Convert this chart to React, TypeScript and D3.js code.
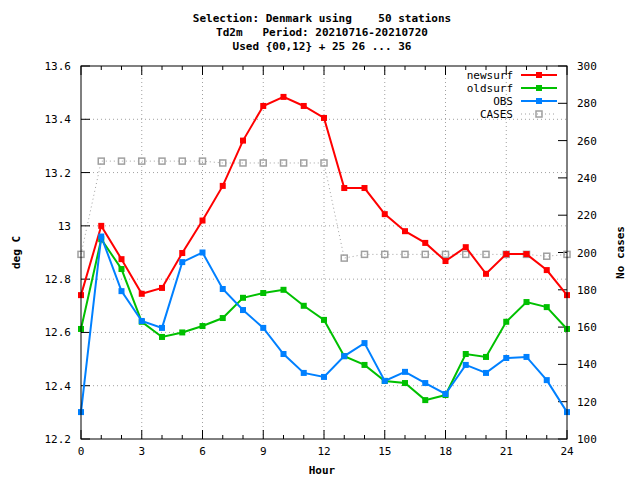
import { useEffect, useRef } from 'react'
import * as d3 from 'd3'

const hours = d3.range(0, 25)
const newsurf = [12.74, 13.0, 12.875, 12.745, 12.767, 12.898, 13.02, 13.15, 13.32, 13.45, 13.484, 13.45, 13.405, 13.142, 13.142, 13.044, 12.98, 12.936, 12.868, 12.92, 12.82, 12.894, 12.894, 12.834, 12.74]
const oldsurf = [12.613, 12.95, 12.838, 12.64, 12.583, 12.6, 12.624, 12.654, 12.73, 12.748, 12.76, 12.7, 12.647, 12.511, 12.478, 12.418, 12.41, 12.346, 12.365, 12.519, 12.508, 12.64, 12.714, 12.695, 12.613]
const obs = [12.301, 12.96, 12.755, 12.643, 12.617, 12.864, 12.9, 12.763, 12.684, 12.617, 12.519, 12.448, 12.433, 12.511, 12.56, 12.418, 12.452, 12.41, 12.369, 12.478, 12.448, 12.504, 12.508, 12.421, 12.301]
const cases = [199, 249, 249, 249, 249, 249, 249, 248, 248, 248, 248, 248, 248, 197, 199, 199, 199, 199, 199, 199, 199, 199, 199, 198, 199]
const xTicks = [0, 3, 6, 9, 12, 15, 18, 21, 24]
const yTicks = [12.2, 12.4, 12.6, 12.8, 13, 13.2, 13.4, 13.6]
const y2Ticks = [100, 120, 140, 160, 180, 200, 220, 240, 260, 280, 300]
const titleLines = ['Selection: Denmark using    50 stations', 'Td2m   Period: 20210716-20210720', 'Used {00,12} + 25 26 ... 36']

export default function App() {
  const ref = useRef<SVGSVGElement>(null)

  useEffect(() => {
    const svg = d3.select(ref.current)
    svg.selectAll('*').remove()
    const font = '"DejaVu Sans Mono", monospace'
    const L = 81, R = 567, T = 66, B = 439

    const x = d3.scaleLinear().domain([0, 24]).range([L, R])
    const y = d3.scaleLinear().domain([12.2, 13.6]).range([B, T])
    const y2 = d3.scaleLinear().domain([100, 300]).range([B, T])

    svg.append('rect').attr('width', 640).attr('height', 480).attr('fill', '#fff')

    // grid
    const g = svg.append('g').attr('stroke', '#a0a0a0').attr('stroke-width', 1).attr('stroke-dasharray', '1,3')
    xTicks.slice(1, -1).forEach(t => g.append('line').attr('x1', x(t)).attr('x2', x(t)).attr('y1', T).attr('y2', B))
    yTicks.slice(1, -1).forEach(t => g.append('line').attr('x1', L).attr('x2', R).attr('y1', y(t)).attr('y2', y(t)))

    const ax = svg.append('g').attr('stroke', '#000').attr('stroke-width', 1)
    hours.forEach(h => {
      const len = xTicks.includes(h) ? 9 : 4
      ax.append('line').attr('x1', x(h)).attr('x2', x(h)).attr('y1', B).attr('y2', B - len)
      ax.append('line').attr('x1', x(h)).attr('x2', x(h)).attr('y1', T).attr('y2', T + len)
    })
    yTicks.forEach(t => ax.append('line').attr('x1', L).attr('x2', L + 9).attr('y1', y(t)).attr('y2', y(t)))
    y2Ticks.forEach(t => ax.append('line').attr('x1', R).attr('x2', R - 9).attr('y1', y2(t)).attr('y2', y2(t)))

    const txt = (s: string, tx: number, ty: number, anchor = 'middle', w = 'normal') =>
      svg.append('text').attr('x', tx).attr('y', ty).attr('text-anchor', anchor)
        .attr('font-family', font).attr('font-size', 11).attr('font-weight', w)
        .style('white-space', 'pre').text(s)

    xTicks.forEach(t => txt(String(t), x(t), B + 16))
    yTicks.forEach(t => txt(d3.format('~g')(t), L - 10, y(t) + 4, 'end'))
    y2Ticks.forEach(t => txt(String(t), R + 10, y2(t) + 4, 'start'))
    titleLines.forEach((s, i) => txt(s, 322, 22 + i * 14, 'middle', 'bold'))
    txt('Hour', 322, 474, 'middle', 'bold')
    svg.append('text').attr('transform', `translate(20,${(T + B) / 2}) rotate(-90)`).attr('text-anchor', 'middle')
      .attr('font-family', font).attr('font-size', 11).attr('font-weight', 'bold').text('deg C')
    svg.append('text').attr('transform', `translate(624,${(T + B) / 2}) rotate(-90)`).attr('text-anchor', 'middle')
      .attr('font-family', font).attr('font-size', 11).attr('font-weight', 'bold').text('No cases')

    const series = [
      { name: 'newsurf', vals: newsurf, color: '#ff0000', sc: y },
      { name: 'oldsurf', vals: oldsurf, color: '#00c000', sc: y },
      { name: 'OBS', vals: obs, color: '#0080ff', sc: y },
    ]
    // cases
    const line2 = d3.line<number>().x((_, i) => x(hours[i])).y(d => y2(d))
    svg.append('path').attr('d', line2(cases)).attr('fill', 'none').attr('stroke', '#a0a0a0').attr('stroke-dasharray', '1,3')
    cases.forEach((d, i) => svg.append('rect').attr('x', x(hours[i]) - 3).attr('y', y2(d) - 3).attr('width', 6).attr('height', 6)
      .attr('fill', 'none').attr('stroke', '#a0a0a0').attr('stroke-width', 1.5))

    series.forEach(s => {
      const line = d3.line<number>().x((_, i) => x(hours[i])).y(d => s.sc(d))
      svg.append('path').attr('d', line(s.vals)).attr('fill', 'none').attr('stroke', s.color).attr('stroke-width', 2)
      s.vals.forEach((d, i) => svg.append('rect').attr('x', x(hours[i]) - 3).attr('y', s.sc(d) - 3)
        .attr('width', 6).attr('height', 6).attr('fill', s.color))
    })

    // legend
    const leg = [...series.map(s => ({ name: s.name, color: s.color, open: false })), { name: 'CASES', color: '#a0a0a0', open: true }]
    leg.forEach((l, i) => {
      const ly = 75 + i * 13
      txt(l.name, 513, ly + 4, 'end')
      const ln = svg.append('line').attr('x1', 521).attr('x2', 557).attr('y1', ly).attr('y2', ly).attr('stroke', l.color)
      if (l.open) ln.attr('stroke-dasharray', '1,3')
      else ln.attr('stroke-width', 2)
      svg.append('rect').attr('x', 536).attr('y', ly - 3).attr('width', 6).attr('height', 6)
        .attr('fill', l.open ? 'none' : l.color).attr('stroke', l.open ? l.color : 'none').attr('stroke-width', 1.5)
    })

    svg.append('rect').attr('x', L).attr('y', T).attr('width', R - L).attr('height', B - T)
      .attr('fill', 'none').attr('stroke', '#000')
  }, [])

  return <svg ref={ref} width={640} height={480} style={{ position: 'absolute', left: 0, top: 0 }} />
}
